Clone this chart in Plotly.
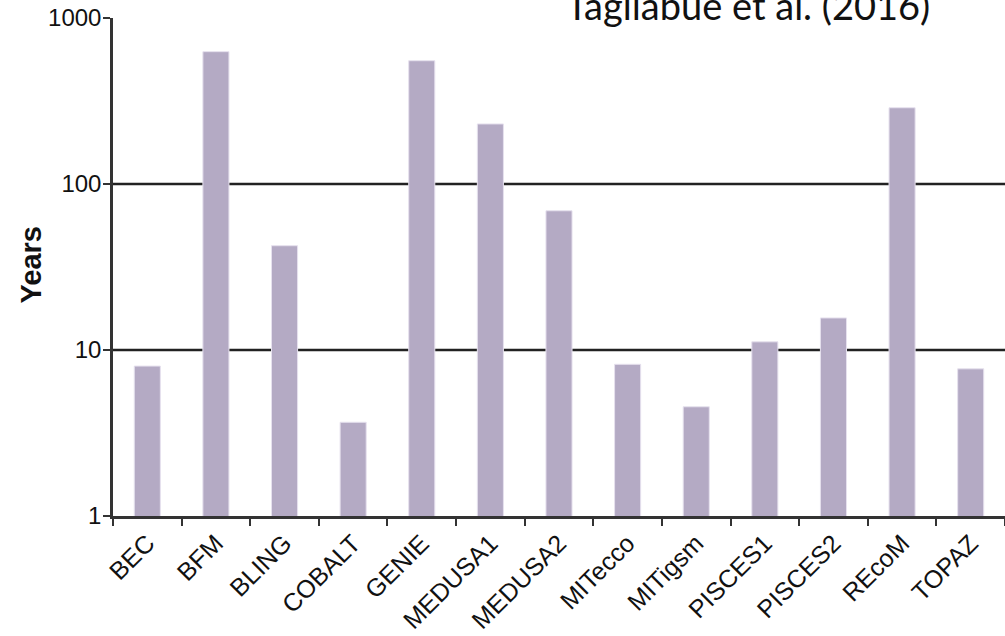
import plotly.graph_objects as go

# Model names and their timescale (years), log scale
models = ["BEC", "BFM", "BLING", "COBALT", "GENIE", "MEDUSA1", "MEDUSA2",
          "MITecco", "MITigsm", "PISCES1", "PISCES2", "REcoM", "TOPAZ"]
years = [8.0, 627, 42.5, 3.67, 553, 230, 69, 8.2, 4.55, 11.2, 15.6, 288, 7.7]

y_tick_vals = [1, 10, 100, 1000]
y_tick_text = ["1", "10", "100", "1000"]
grid_vals = [10, 100]

BAR_COLOR = "#b4aac4"
AXIS_COLOR = "#333333"

fig = go.Figure()
fig.add_trace(go.Bar(
    x=models, y=years,
    marker=dict(color=BAR_COLOR, line=dict(color="#e6e1ee", width=1)),
))

# horizontal reference lines at each decade (drawn beneath the bars)
for g in grid_vals:
    fig.add_shape(type="line", xref="paper", yref="y", x0=0, x1=1,
                  y0=g, y1=g, layer="below",
                  line=dict(color="#222222", width=2.5))

fig.update_layout(
    width=1005, height=636,
    margin=dict(l=113, r=0, t=18, b=120),
    paper_bgcolor="white", plot_bgcolor="white",
    bargap=0.62,
    showlegend=False,
    font=dict(family="Liberation Sans, Arial, sans-serif", color="#111111"),
)

fig.update_xaxes(
    type="category",
    tickson="boundaries",
    ticks="outside", ticklen=7, tickwidth=2, tickcolor=AXIS_COLOR,
    showline=True, linecolor=AXIS_COLOR, linewidth=2.5,
    showgrid=False,
    tickangle=-45,
    tickfont=dict(size=25),
    range=[-0.5, 12.5],
)

fig.update_yaxes(
    type="log",
    range=[0, 3],
    tickvals=y_tick_vals, ticktext=y_tick_text,
    ticks="outside", ticklen=7, tickwidth=2, tickcolor=AXIS_COLOR,
    showline=True, linecolor=AXIS_COLOR, linewidth=2.5,
    showgrid=False, zeroline=False,
    tickfont=dict(size=24),
    ticklabelstandoff=-3,
)

fig.add_annotation(
    text="<b>Years</b>", textangle=-90,
    xref="paper", yref="paper", x=-0.092, y=0.505,
    xanchor="center", yanchor="middle", showarrow=False,
    font=dict(size=29, family="Liberation Sans, Arial, sans-serif", color="#111111"),
)

fig.add_annotation(
    text="Tagliabue et al. (2016)",
    xref="paper", yref="paper", x=0.918, y=1.0, yshift=-12,
    xanchor="right", yanchor="bottom", showarrow=False,
    font=dict(size=38, family="Lato, Open Sans, sans-serif", color="#111111"),
)

fig.write_html("out.html")
